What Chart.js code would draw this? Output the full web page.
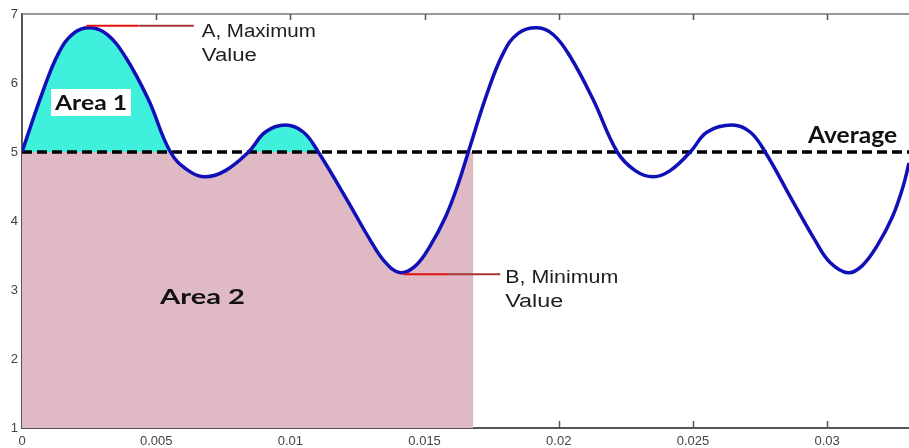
<!DOCTYPE html>
<html>
<head>
<meta charset="utf-8">
<script src="https://cdn.jsdelivr.net/npm/chart.js@4.4.0/dist/chart.umd.min.js"></script>
<style>
  html, body { margin: 0; padding: 0; background: #fff; }
  #wrap { width: 909px; height: 448px; }
</style>
</head>
<body>
<div id="wrap"><canvas id="signalChart" width="909" height="448"></canvas></div>
<script>
// time (s) and signal value
const timeS = [0, 0.00076, 0.00136, 0.00192, 0.00255, 0.00318, 0.00385, 0.00471, 0.00553,
  0.00620, 0.00683, 0.00758, 0.00844, 0.00907, 0.00981, 0.01048, 0.01104,
  0.01212, 0.01298, 0.01354, 0.01410, 0.01466, 0.01521, 0.01577, 0.01622, 0.01663,
  0.01734, 0.01793, 0.01849, 0.01920, 0.01980, 0.02043, 0.02128, 0.02218,
  0.02285, 0.02352, 0.02415, 0.02490, 0.02553, 0.02646, 0.02713, 0.02769,
  0.02870, 0.02955, 0.03011, 0.03078, 0.03130, 0.03186, 0.03242, 0.03283, 0.03305];
const signal = [5.00, 5.86, 6.43, 6.72, 6.80, 6.70, 6.38, 5.76, 5.00,
  4.73, 4.64, 4.73, 5.00, 5.29, 5.39, 5.29, 5.00,
  4.30, 3.72, 3.40, 3.25, 3.35, 3.64, 4.05, 4.50, 5.00,
  5.86, 6.43, 6.72, 6.80, 6.70, 6.38, 5.76, 5.00,
  4.73, 4.64, 4.73, 5.00, 5.29, 5.39, 5.29, 5.00,
  4.30, 3.72, 3.40, 3.25, 3.35, 3.64, 4.05, 4.50, 4.84];

const average = 5;
const xMax = 0.03305;
const area1End = 0.01104;   // last crossing of the average inside Area 1
const cycleEnd = 0.01663;   // curve comes back up to the average
const area2End = 0.01682;   // right edge of the pink block

// leader lines: start, colour change, end (s) and level
const maxMarker = [0.0024, 0.00434, 0.0064, 6.83];
const minMarker = [0.01421, 0.01588, 0.01782, 3.23];

const points = timeS.map((t, i) => ({ x: t, y: signal[i] }));
const upTo = lim => points.filter(p => p.x <= lim + 1e-9);

const BLUE = '#1010b8';
const CYAN = '#3ff0dc';
const PINK = '#dfbac4';
const SMOOTH = 0.4;

function fitText(ctx, text, x, y, font, width) {
  ctx.font = font;
  const w = ctx.measureText(text).width;
  ctx.save();
  ctx.translate(x, y);
  ctx.scale(width / w, 1);
  ctx.fillText(text, 0, 0);
  ctx.restore();
}

const framePlugin = {
  id: 'frame',
  beforeDatasetsDraw(chart) {
    const { ctx, chartArea: a, scales: { x } } = chart;
    ctx.save();
    ctx.strokeStyle = '#777';
    ctx.lineWidth = 1.5;
    ctx.beginPath();
    ctx.moveTo(a.left, a.top);
    ctx.lineTo(a.right, a.top);
    ctx.stroke();
    ctx.strokeStyle = '#555';
    x.ticks.forEach(t => {
      if (t.value === 0) return;
      const px = Math.round(x.getPixelForValue(t.value)) + 0.5;
      ctx.beginPath();
      ctx.moveTo(px, a.bottom);
      ctx.lineTo(px, a.bottom - 7);
      ctx.moveTo(px, a.top);
      ctx.lineTo(px, a.top + 6);
      ctx.stroke();
    });
    ctx.restore();
  },
  afterDatasetsDraw(chart) {
    const { ctx, scales: { x, y } } = chart;
    ctx.save();
    ctx.lineWidth = 2;
    const leader = (m) => {
      const py = y.getPixelForValue(m[3]);
      const p0 = x.getPixelForValue(m[0]);
      const p1 = x.getPixelForValue(m[1]);
      const p2 = x.getPixelForValue(m[2]);
      ctx.strokeStyle = '#e01010';
      ctx.beginPath(); ctx.moveTo(p0, py); ctx.lineTo(p1, py); ctx.stroke();
      ctx.strokeStyle = '#a83434';
      ctx.beginPath(); ctx.moveTo(p1, py); ctx.lineTo(p2, py); ctx.stroke();
      return { end: p2, py };
    };
    const a = leader(maxMarker);
    const b = leader(minMarker);

    ctx.fillStyle = '#1e1e1e';
    ctx.textAlign = 'left';
    ctx.textBaseline = 'alphabetic';
    fitText(ctx, 'A, Maximum', a.end + 8, a.py + 11, '18px "Liberation Sans", Arial', 114);
    fitText(ctx, 'Value', a.end + 8, a.py + 35, '18px "Liberation Sans", Arial', 55);
    fitText(ctx, 'B, Minimum', b.end + 5, b.py + 9, '18px "Liberation Sans", Arial', 113);
    fitText(ctx, 'Value', b.end + 5, b.py + 33, '18px "Liberation Sans", Arial', 58);

    ctx.fillStyle = '#fff';
    ctx.fillRect(51, 89, 80, 27);
    ctx.fillStyle = '#111';
    fitText(ctx, 'Area 1', 55, 110, 'bold 21px Lato', 72);
    fitText(ctx, 'Area 2', 160, 304, 'bold 21px Lato', 85);
    fitText(ctx, 'Average', 808, 143, 'bold 22px Lato', 89);
    ctx.restore();
  }
};

const tickFont = { family: '"Liberation Sans", Arial', size: 13 };

new Chart(document.getElementById('signalChart').getContext('2d'), {
  type: 'line',
  data: {
    datasets: [
      {
        label: 'signal',
        data: points,
        borderColor: BLUE,
        borderWidth: 3.5,
        pointRadius: 0,
        tension: SMOOTH,
        fill: false
      },
      {
        label: 'average',
        data: [{ x: 0, y: average }, { x: xMax, y: average }],
        borderColor: '#000',
        borderWidth: 3.5,
        borderDash: [10, 5],
        pointRadius: 0,
        fill: false
      },
      {
        label: 'area 1',
        data: upTo(area1End),
        borderColor: 'rgba(0,0,0,0)',
        borderWidth: 0,
        pointRadius: 0,
        tension: SMOOTH,
        fill: { target: { value: average }, above: CYAN, below: 'rgba(0,0,0,0)' }
      },
      {
        label: 'area 2 strip',
        data: [{ x: cycleEnd - 0.00002, y: average }, { x: area2End, y: average }],
        borderColor: 'rgba(0,0,0,0)',
        borderWidth: 0,
        pointRadius: 0,
        backgroundColor: PINK,
        fill: 'start'
      },
      {
        label: 'area 2',
        data: upTo(cycleEnd),
        borderColor: 'rgba(0,0,0,0)',
        borderWidth: 0,
        pointRadius: 0,
        tension: SMOOTH,
        backgroundColor: PINK,
        fill: 'start'
      }
    ]
  },
  options: {
    responsive: false,
    animation: false,
    devicePixelRatio: 1,
    layout: { padding: { top: 14, right: 0, left: 0, bottom: 0 } },
    plugins: { legend: { display: false }, tooltip: { enabled: false } },
    scales: {
      x: {
        type: 'linear',
        min: 0,
        max: xMax,
        z: 1,
        afterFit: s => { s.height = 20; },
        border: { display: true, color: '#555', width: 2 },
        grid: { display: true, drawOnChartArea: false, drawTicks: false },
        ticks: {
          stepSize: 0.005,
          includeBounds: false,
          autoSkip: false,
          maxRotation: 0,
          padding: 6,
          color: '#444',
          font: tickFont,
          callback: v => (v === 0 ? '0' : String(parseFloat(v.toFixed(3))))
        }
      },
      y: {
        min: 1,
        max: 7,
        z: 1,
        afterFit: s => { s.width = 22; },
        border: { display: true, color: '#555', width: 2 },
        grid: { display: true, drawOnChartArea: false, drawTicks: false },
        ticks: { stepSize: 1, padding: 4, color: '#444', font: tickFont }
      }
    }
  },
  plugins: [framePlugin]
});
</script>
</body>
</html>
